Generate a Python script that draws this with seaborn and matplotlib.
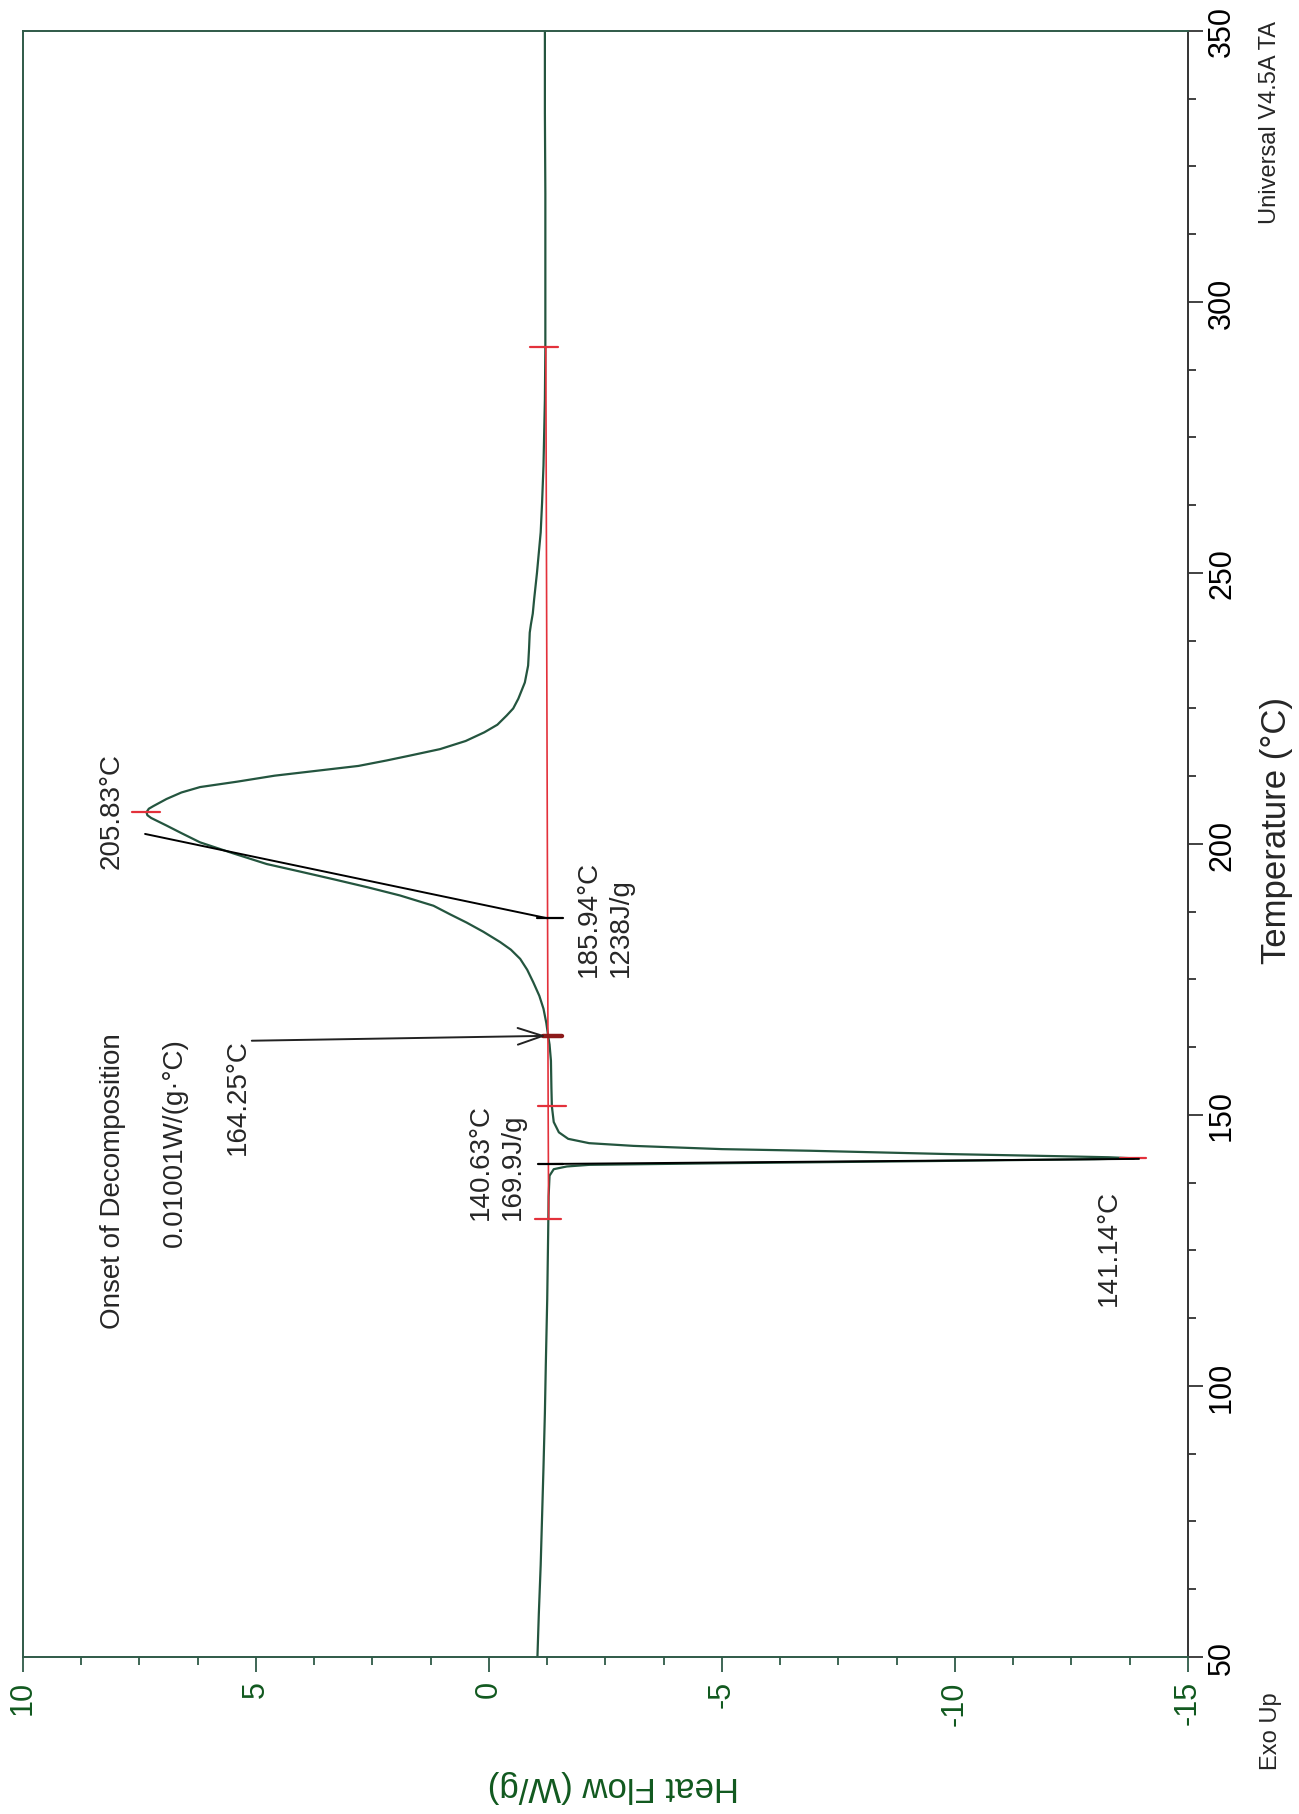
import matplotlib
matplotlib.use("Agg")
import matplotlib.pyplot as plt
from matplotlib.ticker import MultipleLocator
import numpy as np
import pandas as pd
import seaborn as sns

# ---------------- data ----------------
temp_c = [50, 58, 67, 76, 85, 95, 104, 116, 128, 135, 138.8, 140.0, 140.5, 140.8,
          141.1, 141.5, 141.85, 142.0, 142.2, 142.4, 142.8, 143.4, 143.7, 144.3,
          144.8, 145.6, 146.8, 148.7, 151.6, 155, 160, 163, 164.6, 167, 169.6,
          172, 174.5, 176.8, 178.8, 180.5, 181.9, 183.8, 185.5, 187, 188.6, 190.5,
          192, 193.5, 195, 196.3, 198.3, 200.3, 202, 203.4, 204.8, 205.3, 205.85,
          206.5, 207, 208.3, 209.5, 210.5, 211.5, 212.6, 213.5, 214.4, 215.4,
          216.3, 217.5, 219, 220.6, 222, 223.7, 225, 226.8, 229.8, 232.9, 236,
          239, 240.5, 242.5, 245.2, 250, 257.5, 263, 269.8, 282, 291.7, 300, 320,
          335, 350]
heat_flow = [-1.04, -1.07, -1.11, -1.14, -1.17, -1.20, -1.22, -1.25, -1.27, -1.28,
             -1.30, -1.39, -1.67, -2.15, -5.0, -9.5, -13.0, -13.85, -13.3, -12.2,
             -9.8, -6.9, -5.0, -3.1, -2.15, -1.7, -1.5, -1.39, -1.35, -1.34, -1.33,
             -1.30, -1.27, -1.23, -1.17, -1.08, -0.95, -0.82, -0.67, -0.47, -0.24,
             0.12, 0.48, 0.83, 1.19, 1.91, 2.6, 3.34, 4.1, 4.77, 5.5, 6.2, 6.6,
             6.92, 7.25, 7.33, 7.35, 7.3, 7.2, 6.92, 6.6, 6.2, 5.4, 4.6, 3.7, 2.8,
             2.2, 1.7, 1.05, 0.5, 0.1, -0.18, -0.38, -0.52, -0.63, -0.77, -0.84,
             -0.86, -0.875, -0.90, -0.94, -0.97, -1.03, -1.11, -1.14, -1.17, -1.20,
             -1.21, -1.21, -1.21, -1.20, -1.20]

# integration baseline (temperature, heat flow)
baseline_t = [130.8, 151.7, 291.7]
baseline_hf = [-1.28, -1.27, -1.22]
# red limit / peak markers: temperature and heat-flow span
red_tick_t = [130.8, 151.7, 291.7, 205.85, 142.0]
red_tick_hf0 = [-0.99, -1.06, -0.89, 7.67, -13.55]
red_tick_hf1 = [-1.55, -1.65, -1.49, 7.06, -14.10]
# onset tangent lines
melt_tangent_t = [140.96, 141.9]
melt_tangent_hf = [-1.27, -13.95]
decomp_tangent_t = [186.3, 201.85]
decomp_tangent_hf = [-1.25, 7.38]
black_tick_t = [140.96, 186.3]
black_tick_hf0 = [-1.06, -1.04]
black_tick_hf1 = [-1.59, -1.58]
# onset of decomposition marker
onset_t = 164.6
onset_hf = [-1.16, -1.57]

hf_ticks = [10, 5, 0, -5, -10, -15]
temp_ticks = [50, 100, 150, 200, 250, 300, 350]

# ---------------- style ----------------
sns.set_style("white")
plt.rcParams["font.family"] = ["Liberation Sans", "DejaVu Sans"]
plt.rcParams["axes.unicode_minus"] = False

GREEN_TXT = "#11591f"
CURVE = "#24553f"
RED = "#e3313b"
DARKRED = "#8c1a1a"
SPINE = "#2f5a48"

fig = plt.figure(figsize=(12.99, 18.15), dpi=100)
ax = fig.add_axes([0.0177, 0.0865, 0.8968, 0.8959])

df = pd.DataFrame({"heat_flow": heat_flow, "temp": temp_c})
sns.lineplot(data=df, x="heat_flow", y="temp", sort=False, estimator=None,
             orient="y", color=CURVE, lw=1.6, ax=ax)

# baseline
ax.plot(baseline_hf, baseline_t, color=RED, lw=1.2, zorder=3)
for t, a, b in zip(red_tick_t, red_tick_hf0, red_tick_hf1):
    ax.plot([a, b], [t, t], color=RED, lw=1.6, zorder=4)
ax.plot(melt_tangent_hf, melt_tangent_t, color="black", lw=1.4, zorder=4)
ax.plot(decomp_tangent_hf, decomp_tangent_t, color="black", lw=1.4, zorder=4)
for t, a, b in zip(black_tick_t, black_tick_hf0, black_tick_hf1):
    ax.plot([a, b], [t, t], color="black", lw=1.6, zorder=4)
ax.plot(onset_hf, [onset_t, onset_t], color=DARKRED, lw=3.2, zorder=5)

ax.annotate("", xy=(-1.22, onset_t), xytext=(5.09, 163.7),
            arrowprops=dict(arrowstyle="->,head_length=0.9,head_width=0.3",
                            color="#222222", lw=1.4, mutation_scale=20,
                            shrinkA=0, shrinkB=0), zorder=5)

# annotation texts
AFS = 20
ax.text(8.07, 165.3, "Onset of Decomposition", rotation=90, ha="center", va="top", fontsize=AFS)
ax.text(6.74, 164.4, "0.01001W/(g\u00b7\u00b0C)", rotation=90, ha="center", va="top", fontsize=AFS)
ax.text(5.38, 164.2, "164.25\u00b0C", rotation=90, ha="center", va="top", fontsize=AFS)
ax.text(-0.16, 130.8, "140.63\u00b0C\n169.9J/g", rotation=90, ha="center", va="bottom",
        fontsize=AFS, multialignment="left", linespacing=1.3)
ax.text(-2.49, 175.6, "185.94\u00b0C\n1238J/g", rotation=90, ha="center", va="bottom",
        fontsize=AFS, multialignment="left", linespacing=1.3)
ax.text(8.09, 206.3, "205.83\u00b0C", rotation=90, ha="center", va="center", fontsize=AFS)
ax.text(-13.3, 136.3, "141.14\u00b0C", rotation=90, ha="center", va="top", fontsize=AFS)

# axes
ax.set_xlim(10, -15)
ax.set_ylim(50, 350)
ax.set_xticks(hf_ticks)
ax.set_yticks(temp_ticks)
ax.xaxis.set_minor_locator(MultipleLocator(1.25))
ax.yaxis.set_minor_locator(MultipleLocator(12.5))
ax.yaxis.tick_right()
ax.tick_params(axis="x", which="both", bottom=True, top=False, direction="out",
               color=SPINE, width=1.3, labelcolor=GREEN_TXT, labelsize=22,
               labelrotation=90, pad=6)
ax.tick_params(axis="x", which="major", length=10.8)
ax.tick_params(axis="x", which="minor", length=5.8)
ax.tick_params(axis="y", which="both", left=False, right=True, labelleft=False,
               labelright=True, direction="out", color="#333333", width=1.3,
               labelcolor="black", labelsize=22, labelrotation=90, pad=3)
ax.tick_params(axis="y", which="major", length=10.8)
ax.tick_params(axis="y", which="minor", length=5.8)
for lab in ax.get_yticklabels():
    lab.set_va("center")

for side in ["top", "left", "bottom"]:
    ax.spines[side].set_color(SPINE)
    ax.spines[side].set_linewidth(1.4)
ax.spines["right"].set_color("#333333")
ax.spines["right"].set_linewidth(1.4)

ax.set_xlabel("Heat Flow (W/g)", rotation=180, ha="center", va="center",
              fontsize=25, color=GREEN_TXT)
ax.xaxis.set_label_coords(0.507, -0.0793)
ax.yaxis.set_label_position("right")
ax.set_ylabel("Temperature (\u00b0C)", rotation=90, ha="center", va="center", fontsize=25)
ax.yaxis.set_label_coords(1.0764, 0.5086)

fig.text(1270 / 1299, 1 - 224 / 1815, "Universal V4.5A TA", rotation=90,
         ha="center", va="bottom", fontsize=17)
fig.text(1271 / 1299, 1 - 1731 / 1815, "Exo Up", rotation=90, ha="center",
         va="center", fontsize=17)

fig.savefig("out.png", dpi=100, facecolor="white")
